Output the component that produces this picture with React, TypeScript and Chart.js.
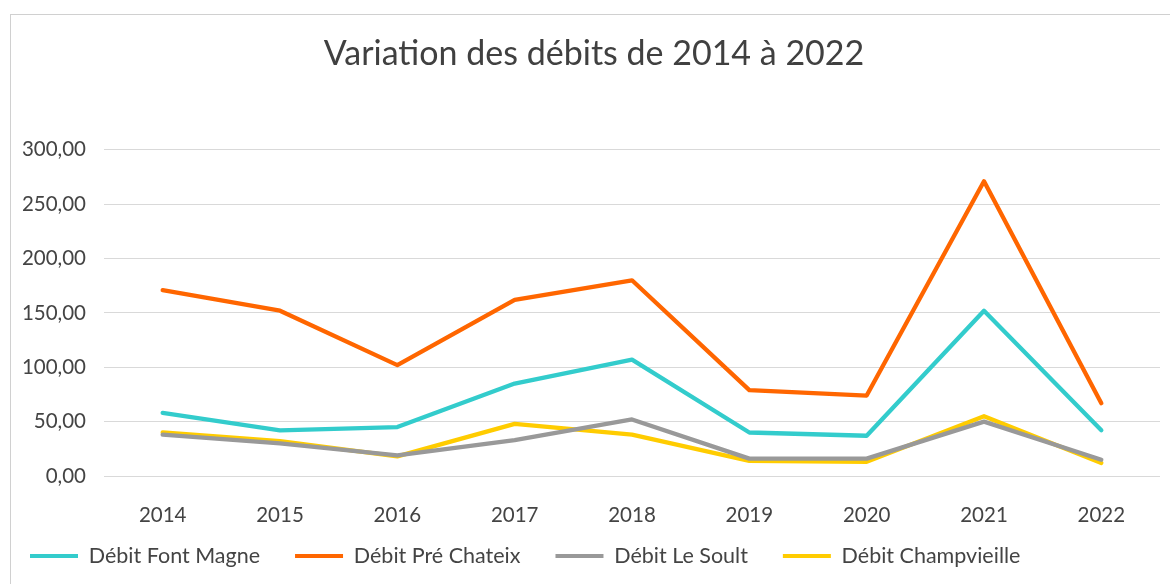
import React, { useEffect, useRef } from "react";
import { Chart, registerables } from "chart.js";

Chart.register(...registerables);

const years = ["2014", "2015", "2016", "2017", "2018", "2019", "2020", "2021", "2022"];
const fontMagne = [58, 42, 45, 85, 107, 40, 37, 152, 42];
const preChateix = [171, 152, 102, 162, 180, 79, 74, 271, 67];
const leSoult = [38, 30, 19, 33, 52, 16, 16, 50, 15];
const champvieille = [40, 32, 18, 48, 38, 14, 13, 55, 12];
const seriesNames = ["Débit Font Magne", "Débit Pré Chateix", "Débit Le Soult", "Débit Champvieille"];
const seriesColors = ["#33CCCC", "#FF6600", "#999999", "#FFCC00"];
const titleText = "Variation des débits de 2014 à 2022";

const FONT = "Lato, 'Open Sans', sans-serif";
const TEXT = "#444444";

export default function App() {
  const ref = useRef<HTMLCanvasElement | null>(null);
  useEffect(() => {
    document.documentElement.style.overflow = "hidden";
    const values = [fontMagne, preChateix, leSoult, champvieille];
    const boxShift = {
      id: "boxShift",
      afterLayout(chart: any) {
        const lg = chart.legend;
        if (lg) {
          lg.left = -16;
          lg.top = 541 - 35 - 10.75;
        }
        const tb = chart.titleBlock;
        if (tb) {
          tb.left = 17;
        }
      },
    };
    const chart = new Chart(ref.current!, {
      type: "line",
      data: {
        labels: years,
        datasets: values.map((v, i) => ({
          label: seriesNames[i],
          data: v,
          borderColor: seriesColors[i],
          backgroundColor: seriesColors[i],
          borderWidth: 4.3,
          pointRadius: 0,
          tension: 0,
          fill: false,
          borderJoinStyle: "round" as const,
          borderCapStyle: "round" as const,
        })),
      },
      options: {
        animation: false,
        responsive: false,
        layout: { padding: { left: 0, right: 10, top: 0, bottom: -40 } },
        plugins: {
          title: {
            display: true,
            text: titleText,
            color: "#404040",
            font: { family: FONT, size: 34, weight: "normal" },
            padding: { top: 19, bottom: 75 },
          },
          legend: {
            position: "bottom",
            align: "start",
            labels: {
              boxWidth: 48,
              boxHeight: 4,
              padding: 35,
              color: TEXT,
              font: { family: FONT, size: 21.5 },
              generateLabels: (c: any) =>
                Chart.defaults.plugins.legend.labels.generateLabels(c).map((l: any) => ({ ...l, lineWidth: 0 })),
            },
          },
          tooltip: { enabled: false },
        },
        scales: {
          x: {
            offset: true,
            grid: { display: false, drawTicks: false },
            border: { display: false },
            ticks: { color: TEXT, font: { family: FONT, size: 20.5 }, padding: 27 },
            afterFit: (scale: any) => {
              const lh = scale.chart.legend ? scale.chart.legend.height : 70;
              scale.height = 569 + 40 - 461 - lh;
            },
          },
          y: {
            min: 0,
            max: 300,
            grid: { color: "#d9d9d9", lineWidth: 1, drawTicks: false },
            border: { display: false },
            ticks: {
              stepSize: 50,
              color: TEXT,
              padding: 18,
              font: { family: FONT, size: 20.5 },
              callback: (v: any) => Number(v).toFixed(2).replace(".", ","),
            },
            afterFit: (scale: any) => {
              scale.width = 93;
            },
          },
        },
      },
      plugins: [boxShift],
    });
    return () => chart.destroy();
  }, []);
  return (
    <div
      style={{
        position: "absolute",
        left: 10,
        top: 14,
        width: 1160,
        height: 570,
        borderLeft: "1px solid #d0d0d0",
        borderTop: "1px solid #d0d0d0",
        background: "#fff",
      }}
    >
      <canvas ref={ref} width={1159} height={569} style={{ display: "block" }} />
    </div>
  );
}
